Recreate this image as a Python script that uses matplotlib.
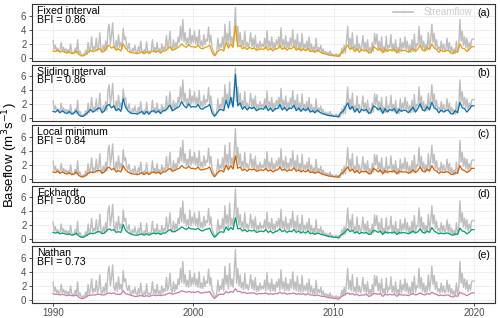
import numpy as np
import matplotlib.pyplot as plt
from matplotlib.lines import Line2D

plt.rcParams['font.family'] = ['Liberation Sans', 'DejaVu Sans']

# monthly streamflow (m3/s), 1990-2019
streamflow = [
    2.5, 1.2, 1.8, 1.0, 1.4, 0.9, 1.1, 2.2, 1.0, 1.5, 0.9, 1.3,
    0.8, 1.2, 0.7, 2.0, 0.9, 0.6, 0.8, 1.4, 0.7, 2.6, 0.6, 1.0,
    0.5, 0.3, 0.6, 0.4, 1.1, 0.5, 2.2, 0.8, 1.4, 3.0, 1.0, 1.6,
    1.2, 2.8, 1.0, 1.6, 3.6, 1.2, 0.9, 1.8, 1.0, 2.4, 1.1, 4.0,
    4.8, 2.0, 3.2, 5.0, 1.8, 1.3, 2.5, 1.2, 3.3, 1.5, 2.2, 1.3,
    4.2, 2.6, 3.0, 1.7, 1.3, 2.1, 1.0, 0.8, 1.4, 0.9, 1.8, 0.9,
    0.7, 1.6, 0.8, 2.4, 0.9, 0.6, 1.2, 0.7, 2.3, 0.8, 1.0, 0.7,
    1.1, 2.6, 0.9, 1.5, 0.8, 2.2, 0.9, 1.3, 0.7, 2.0, 1.0, 1.6,
    1.2, 3.2, 1.3, 2.0, 3.8, 1.4, 1.1, 2.6, 1.2, 2.2, 1.5, 3.0,
    2.2, 4.5, 2.5, 5.5, 2.3, 3.6, 1.9, 2.8, 1.8, 4.2, 2.0, 3.2,
    2.2, 3.8, 2.0, 3.0, 1.8, 4.0, 1.7, 2.4, 1.6, 3.3, 1.9, 2.7,
    2.4, 4.4, 2.1, 3.2, 1.5, 1.0, 0.6, 0.4, 0.9, 2.8, 1.2, 2.0,
    1.5, 3.0, 1.3, 4.8, 2.2, 3.5, 1.6, 5.2, 2.0, 3.0, 1.8, 4.0,
    7.2, 2.4, 4.5, 2.0, 3.6, 1.7, 2.5, 1.5, 3.8, 1.6, 2.2, 1.4,
    2.2, 3.6, 1.6, 2.8, 1.4, 3.2, 1.2, 2.0, 1.3, 2.4, 1.5, 2.0,
    1.6, 2.8, 1.3, 3.9, 1.5, 2.4, 1.2, 3.0, 1.3, 2.2, 1.2, 2.6,
    1.8, 3.0, 1.4, 4.3, 1.6, 2.6, 1.3, 3.2, 1.4, 2.3, 1.3, 2.9,
    1.7, 4.0, 1.5, 2.6, 1.3, 3.4, 1.2, 2.2, 1.1, 3.5, 1.2, 2.0,
    1.3, 2.4, 1.1, 3.0, 1.0, 2.0, 0.9, 1.6, 0.8, 2.8, 0.9, 1.5,
    1.0, 1.8, 0.7, 1.3, 0.6, 0.9, 0.5, 0.8, 0.4, 1.0, 0.3, 0.6,
    0.4, 0.3, 0.6, 0.3, 0.5, 0.2, 0.4, 1.4, 0.6, 1.8, 0.7, 2.4,
    4.5, 1.5, 2.8, 1.3, 3.6, 1.2, 1.8, 1.0, 3.2, 1.1, 2.0, 1.0,
    1.6, 3.2, 1.2, 2.2, 0.9, 2.6, 0.8, 1.5, 0.7, 2.2, 0.9, 3.5,
    2.0, 3.4, 1.3, 2.4, 1.0, 3.0, 0.9, 1.6, 0.8, 3.1, 1.0, 1.8,
    1.5, 3.3, 1.1, 2.0, 0.9, 2.6, 0.8, 1.5, 0.7, 2.8, 1.0, 2.2,
    1.4, 3.0, 1.2, 2.4, 0.9, 1.8, 0.8, 2.6, 0.9, 3.4, 1.1, 2.0,
    1.8, 4.5, 1.6, 3.2, 1.2, 2.4, 1.0, 2.0, 1.1, 3.6, 1.3, 2.6,
    4.8, 2.2, 3.5, 1.5, 2.6, 1.2, 1.6, 1.0, 2.4, 1.1, 2.0, 1.0,
    1.3, 2.8, 1.1, 2.2, 0.8, 1.6, 0.7, 1.3, 0.6, 2.4, 0.8, 1.6,
    5.5, 2.4, 3.8, 1.8, 3.0, 1.5, 2.8, 1.2, 2.2, 1.4, 2.6, 2.7,
]

# bimonthly baseflow per method (m3/s), 1990-2019
fixed_interval = [
    1.0, 0.9, 1.1, 0.8, 1.0, 0.8,  0.7, 0.9, 0.6, 0.7, 1.0, 0.5,
    0.3, 0.3, 0.5, 0.8, 1.1, 0.9,  1.0, 1.2, 1.3, 0.8, 1.0, 1.6,
    1.8, 1.4, 1.6, 1.1, 1.3, 1.0,  2.0, 1.4, 1.0, 0.8, 0.7, 0.7,
    0.6, 0.7, 0.9, 0.6, 0.9, 0.6,  0.9, 1.0, 0.8, 1.0, 0.7, 1.0,
    1.0, 1.3, 1.6, 1.1, 1.2, 1.4,  1.6, 2.0, 1.7, 1.5, 1.9, 1.6,
    1.6, 1.5, 1.8, 1.4, 1.3, 1.5,  1.6, 1.8, 0.8, 0.3, 0.7, 1.1,
    1.2, 1.0, 2.2, 1.4, 2.0, 1.5,  4.6, 1.6, 1.8, 1.3, 1.5, 1.2,
    1.5, 1.3, 1.4, 1.1, 1.2, 1.3,  1.2, 1.6, 1.1, 1.4, 1.0, 1.3,
    1.3, 1.8, 1.2, 1.5, 1.1, 1.4,  1.3, 1.7, 1.1, 1.4, 1.0, 1.3,
    1.0, 1.4, 0.9, 1.0, 0.8, 1.1,  0.9, 0.7, 0.6, 0.5, 0.4, 0.4,
    0.3, 0.3, 0.2, 0.7, 0.9, 1.4,  1.8, 1.2, 1.5, 0.9, 1.3, 0.8,
    1.2, 1.0, 1.2, 0.7, 0.8, 1.6,  1.4, 1.1, 1.4, 0.7, 1.3, 0.9,
    1.2, 1.0, 1.3, 0.7, 1.2, 1.0,  1.1, 1.0, 0.8, 1.1, 1.4, 0.9,
    1.3, 1.8, 1.1, 1.0, 1.5, 1.2,  2.0, 1.4, 1.2, 0.8, 1.1, 0.9,
    1.0, 1.1, 0.7, 0.6, 1.0, 0.8,  2.0, 1.4, 1.3, 0.9, 1.2, 1.6,
]
sliding_interval = [
    1.0, 0.9, 1.2, 0.8, 1.1, 0.8,  0.7, 1.0, 0.6, 0.8, 1.1, 0.5,
    0.3, 0.3, 0.6, 0.9, 1.3, 0.9,  1.1, 1.4, 1.5, 0.8, 1.1, 1.8,
    2.0, 1.5, 1.8, 1.1, 1.4, 1.0,  2.8, 1.6, 1.1, 0.8, 0.7, 0.7,
    0.6, 0.8, 1.0, 0.6, 1.0, 0.6,  1.0, 1.1, 0.8, 1.1, 0.7, 1.1,
    1.1, 1.5, 1.9, 1.1, 1.3, 1.5,  1.7, 2.4, 1.8, 1.5, 2.1, 1.6,
    1.7, 1.6, 2.0, 1.4, 1.3, 1.6,  1.7, 2.0, 0.8, 0.3, 0.7, 1.2,
    1.3, 1.1, 2.6, 1.5, 3.0, 1.6,  6.3, 1.8, 2.2, 1.3, 1.7, 1.2,
    1.6, 1.4, 1.6, 1.1, 1.3, 1.4,  1.3, 1.8, 1.1, 1.5, 1.0, 1.4,
    1.4, 2.0, 1.2, 1.6, 1.1, 1.5,  1.4, 1.9, 1.1, 1.5, 1.0, 1.4,
    1.1, 1.5, 0.9, 1.1, 0.8, 1.2,  0.9, 0.7, 0.6, 0.5, 0.4, 0.4,
    0.3, 0.3, 0.2, 0.8, 1.0, 1.6,  2.2, 1.3, 1.7, 0.9, 1.4, 0.8,
    1.3, 1.1, 1.3, 0.7, 0.9, 1.8,  1.6, 1.2, 1.5, 0.7, 1.4, 0.9,
    1.3, 1.1, 1.4, 0.7, 1.3, 1.0,  1.2, 1.1, 0.8, 1.2, 1.6, 0.9,
    1.4, 2.1, 1.2, 1.1, 1.7, 1.2,  2.3, 1.5, 1.3, 0.8, 1.2, 0.9,
    1.1, 1.2, 0.7, 0.6, 1.1, 0.8,  2.3, 1.5, 1.4, 0.9, 1.3, 1.8,
]
local_minimum = [
    1.0, 0.9, 1.1, 0.8, 1.0, 0.8,  0.7, 0.9, 0.6, 0.7, 1.0, 0.5,
    0.3, 0.3, 0.5, 0.8, 1.0, 0.9,  1.0, 1.2, 1.2, 0.8, 1.0, 1.5,
    1.7, 1.3, 1.5, 1.0, 1.2, 1.0,  1.9, 1.3, 1.0, 0.8, 0.7, 0.7,
    0.6, 0.7, 0.9, 0.6, 0.9, 0.6,  0.9, 1.0, 0.8, 1.0, 0.7, 1.0,
    1.0, 1.3, 1.5, 1.1, 1.2, 1.4,  1.5, 1.9, 1.6, 1.5, 1.8, 1.5,
    1.5, 1.4, 1.7, 1.3, 1.3, 1.4,  1.5, 1.7, 0.8, 0.3, 0.7, 1.1,
    1.2, 1.0, 2.0, 1.3, 1.9, 1.4,  3.3, 1.5, 1.7, 1.2, 1.4, 1.1,
    1.4, 1.3, 1.4, 1.1, 1.2, 1.3,  1.2, 1.5, 1.1, 1.3, 1.0, 1.2,
    1.3, 1.7, 1.2, 1.4, 1.1, 1.3,  1.2, 1.6, 1.1, 1.3, 1.0, 1.2,
    1.0, 1.3, 0.9, 1.0, 0.8, 1.0,  0.9, 0.7, 0.6, 0.5, 0.4, 0.4,
    0.3, 0.3, 0.2, 0.7, 0.9, 1.3,  1.7, 1.1, 1.4, 0.9, 1.2, 0.8,
    1.1, 1.0, 1.1, 0.7, 0.8, 1.5,  1.3, 1.0, 1.3, 0.7, 1.2, 0.9,
    1.1, 1.0, 1.2, 0.7, 1.1, 1.0,  1.0, 1.0, 0.8, 1.0, 1.3, 0.9,
    1.2, 1.7, 1.1, 1.0, 1.4, 1.1,  1.9, 1.3, 1.1, 0.8, 1.0, 0.9,
    1.0, 1.0, 0.7, 0.6, 0.9, 0.8,  1.9, 1.3, 1.2, 0.9, 1.1, 1.5,
]
eckhardt = [
    1.0, 0.9, 1.0, 0.8, 0.9, 0.8,  0.7, 0.8, 0.6, 0.7, 0.9, 0.5,
    0.3, 0.3, 0.5, 0.7, 0.9, 0.8,  0.9, 1.1, 1.1, 0.8, 0.9, 1.3,
    1.5, 1.3, 1.4, 1.0, 1.1, 1.0,  2.1, 1.3, 1.0, 0.8, 0.7, 0.6,
    0.6, 0.7, 0.8, 0.6, 0.8, 0.6,  0.8, 0.9, 0.8, 0.9, 0.7, 0.9,
    0.9, 1.2, 1.4, 1.1, 1.1, 1.3,  1.5, 1.8, 1.6, 1.4, 1.7, 1.5,
    1.5, 1.4, 1.6, 1.3, 1.2, 1.4,  1.5, 1.6, 0.8, 0.3, 0.6, 1.0,
    1.1, 1.0, 1.8, 1.3, 1.7, 1.4,  3.1, 1.5, 1.6, 1.2, 1.4, 1.1,
    1.3, 1.2, 1.3, 1.0, 1.1, 1.2,  1.1, 1.4, 1.0, 1.2, 0.9, 1.1,
    1.2, 1.5, 1.1, 1.3, 1.0, 1.2,  1.1, 1.4, 1.0, 1.2, 0.9, 1.1,
    0.9, 1.2, 0.8, 0.9, 0.7, 0.9,  0.8, 0.7, 0.6, 0.5, 0.4, 0.4,
    0.3, 0.3, 0.2, 0.6, 0.8, 1.1,  1.5, 1.1, 1.3, 0.9, 1.1, 0.8,
    1.0, 0.9, 1.0, 0.7, 0.8, 1.3,  1.2, 1.0, 1.2, 0.7, 1.1, 0.9,
    1.0, 0.9, 1.1, 0.7, 1.0, 0.9,  1.0, 0.9, 0.8, 1.0, 1.2, 0.9,
    1.1, 1.5, 1.0, 0.9, 1.2, 1.0,  1.7, 1.2, 1.0, 0.8, 0.9, 0.8,
    0.9, 0.9, 0.7, 0.6, 0.8, 0.7,  1.6, 1.2, 1.1, 0.8, 1.0, 1.4,
]
nathan = [
    0.9, 0.8, 0.8, 0.7, 0.8, 0.7,  0.6, 0.7, 0.6, 0.6, 0.7, 0.4,
    0.2, 0.2, 0.4, 0.6, 0.7, 0.7,  0.7, 0.8, 0.8, 0.7, 0.7, 0.9,
    1.0, 0.9, 1.0, 0.8, 0.8, 0.8,  1.3, 0.9, 0.8, 0.7, 0.6, 0.5,
    0.5, 0.6, 0.6, 0.5, 0.6, 0.5,  0.6, 0.7, 0.6, 0.7, 0.6, 0.7,
    0.7, 0.9, 1.0, 0.8, 0.9, 1.0,  1.1, 1.3, 1.2, 1.1, 1.2, 1.1,
    1.1, 1.1, 1.2, 1.0, 1.0, 1.1,  1.1, 1.2, 0.6, 0.2, 0.5, 0.8,
    0.8, 0.8, 1.2, 1.0, 1.2, 1.1,  1.6, 1.2, 1.2, 1.0, 1.1, 0.9,
    1.0, 1.0, 1.0, 0.8, 0.9, 0.9,  0.9, 1.0, 0.8, 0.9, 0.8, 0.9,
    0.9, 1.1, 0.9, 1.0, 0.8, 0.9,  0.9, 1.0, 0.8, 0.9, 0.8, 0.9,
    0.7, 0.9, 0.7, 0.7, 0.6, 0.7,  0.6, 0.5, 0.5, 0.4, 0.3, 0.3,
    0.2, 0.2, 0.1, 0.4, 0.6, 0.8,  1.0, 0.8, 0.9, 0.7, 0.8, 0.6,
    0.7, 0.7, 0.8, 0.5, 0.6, 0.9,  0.9, 0.8, 0.9, 0.5, 0.8, 0.7,
    0.8, 0.7, 0.8, 0.5, 0.8, 0.7,  0.7, 0.7, 0.6, 0.8, 0.9, 0.7,
    0.8, 1.0, 0.8, 0.7, 0.9, 0.8,  1.1, 0.9, 0.8, 0.6, 0.7, 0.6,
    0.7, 0.7, 0.5, 0.4, 0.6, 0.5,  1.1, 0.9, 0.8, 0.6, 0.8, 1.0,
]

methods = ['Fixed interval', 'Sliding interval', 'Local minimum', 'Eckhardt', 'Nathan']
bfi = [0.86, 0.86, 0.84, 0.80, 0.73]
colors = ['#E69F00', '#0072B2', '#D55E00', '#009E73', '#CC79A7']
baseflows = [fixed_interval, sliding_interval, local_minimum, eckhardt, nathan]
panel_tags = ['(a)', '(b)', '(c)', '(d)', '(e)']

t_q = 1990 + np.arange(len(streamflow)) / 12.0
t_q = np.append(t_q, 2020.0)
q = np.append(streamflow, streamflow[-1])

fig = plt.figure(figsize=(5.0, 3.18), dpi=100)
W, H = 500.0, 318.0
left, right = 32, 495
tops = [4, 64.5, 125, 185.5, 246]
ph = 56.5

for i, (name, b, col, tag, bf) in enumerate(zip(methods, bfi, colors, panel_tags, baseflows)):
    top = tops[i]
    ax = fig.add_axes([left / W, 1 - (top + ph) / H, (right - left) / W, ph / H])
    t_b = 1990 + np.arange(len(bf)) / 6.0
    t_b = np.append(t_b, 2020.0)
    yb = np.append(bf, bf[-1])
    ax.plot(t_q, q, color='#BEBEBE', lw=1.0, zorder=2)
    ax.plot(t_b, yb, color=col, lw=0.9, zorder=3)

    ax.set_xlim(1988.5, 2021.5)
    ax.set_ylim(-0.37, 7.7)
    ax.set_yticks([0, 2, 4, 6])
    ax.set_yticks([1, 3, 5, 7], minor=True)
    ax.set_xticks([1990, 2000, 2010, 2020])
    ax.set_xticks([1995, 2005, 2015], minor=True)
    ax.grid(which='major', color='#EBEBEB', lw=0.6, zorder=0)
    ax.grid(which='minor', color='#F4F4F4', lw=0.4, zorder=0)
    ax.set_axisbelow(True)
    for s in ax.spines.values():
        s.set_color('#333333')
        s.set_linewidth(0.8)
    ax.tick_params(which='major', length=2.5, width=0.6, color='#333333',
                   labelsize=7, labelcolor='#4D4D4D', pad=1.5)
    ax.tick_params(which='minor', length=0)
    if i < 4:
        ax.tick_params(axis='x', labelbottom=False, length=0)

    ax.text(0.011, 0.96, f'{name}\nBFI = {b:.2f}', transform=ax.transAxes,
            ha='left', va='top', fontsize=7.6, linespacing=0.8, color='black')
    ax.text(0.989, 0.93, tag, transform=ax.transAxes, ha='right', va='top',
            fontsize=7.6, color='black')

    if i == 0:
        ax.add_line(Line2D([0.78, 0.823], [0.86, 0.86], transform=ax.transAxes,
                           color='#BEBEBE', lw=1.2))
        ax.text(0.845, 0.86, 'Streamflow', transform=ax.transAxes, ha='left',
                va='center', fontsize=7, color='#CCCCCC')

fig.text(10 / W, 1 - 155 / H, 'Baseflow (m$^3$s$^{-1}$)', rotation=90,
         ha='center', va='center', fontsize=9.5)

fig.savefig('out.png', dpi=100)
